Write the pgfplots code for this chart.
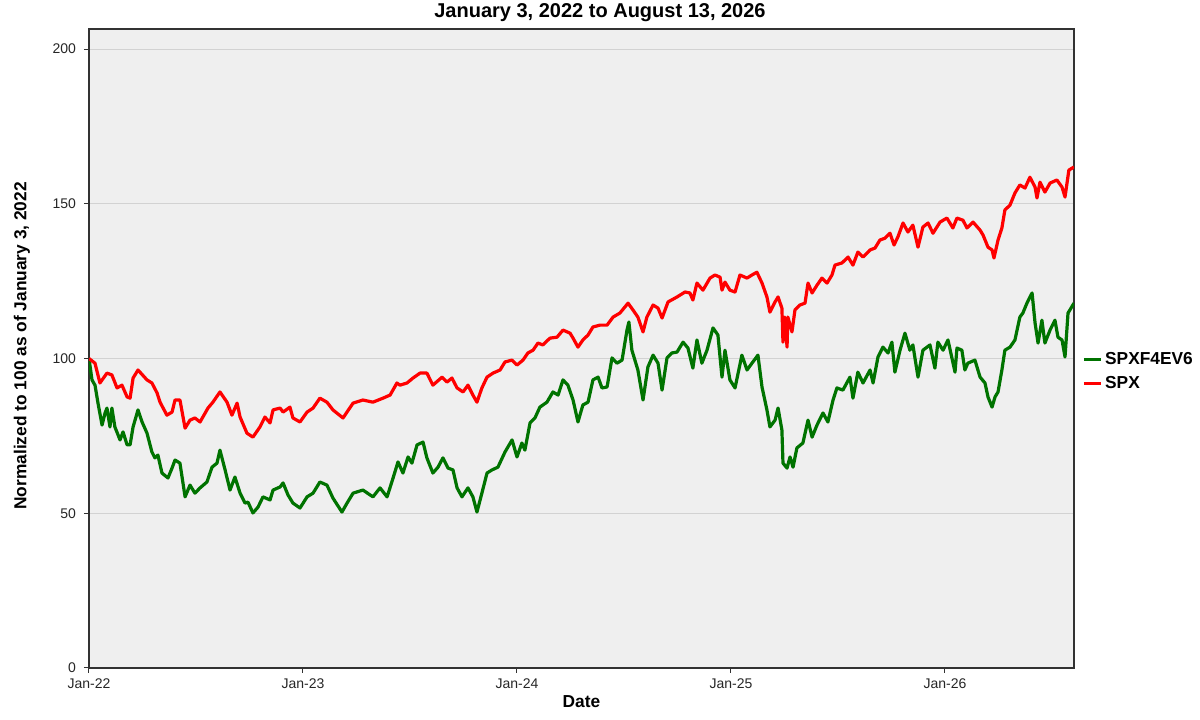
\documentclass[border=0pt]{standalone}
\usepackage{fontspec}
\setmainfont{Liberation Sans}
\usepackage{pgfplots}
\pgfplotsset{compat=1.18}
\usepackage{pgfplotstable}
\definecolor{spxgreen}{RGB}{0,115,0}
\definecolor{spxred}{RGB}{255,0,0}
\definecolor{bgcol}{RGB}{239,239,239}
\definecolor{gridcol}{RGB}{210,210,210}
\definecolor{framecol}{RGB}{50,50,50}

% t = years since January 3, 2022
\pgfplotstableread{
t v
0.000 100.0
0.014 93.1
0.028 91.4
0.042 85.6
0.061 78.5
0.075 82.4
0.084 84.0
0.098 77.9
0.107 84.0
0.121 77.9
0.145 73.7
0.159 76.3
0.178 72.1
0.192 72.1
0.206 77.9
0.229 83.4
0.248 79.5
0.271 75.9
0.294 69.8
0.308 67.9
0.322 68.8
0.341 63.0
0.369 61.4
0.388 64.6
0.402 67.2
0.425 66.2
0.449 55.3
0.472 59.1
0.495 56.5
0.519 58.2
0.551 60.1
0.575 64.9
0.598 66.2
0.612 70.4
0.636 64.0
0.659 57.5
0.682 61.7
0.706 56.5
0.729 53.3
0.743 53.6
0.766 50.1
0.790 52.0
0.813 55.3
0.846 54.3
0.860 57.5
0.893 58.5
0.907 59.8
0.930 55.9
0.953 53.3
0.986 51.7
1.019 55.3
1.047 56.5
1.079 60.1
1.112 59.1
1.140 54.9
1.182 50.4
1.206 53.3
1.234 56.5
1.280 57.5
1.327 55.3
1.360 58.2
1.393 55.3
1.421 61.4
1.444 66.6
1.467 63.0
1.491 68.2
1.509 66.2
1.533 72.1
1.561 73.0
1.579 67.9
1.607 63.0
1.631 64.9
1.654 67.9
1.678 64.6
1.701 64.0
1.720 58.2
1.743 55.3
1.771 58.2
1.794 55.3
1.813 50.4
1.836 56.5
1.860 63.0
1.883 64.0
1.911 64.9
1.944 69.8
1.977 73.7
2.000 68.2
2.023 72.7
2.037 70.4
2.061 79.2
2.084 80.8
2.107 84.3
2.140 85.9
2.168 89.2
2.192 88.2
2.215 93.1
2.238 91.4
2.262 86.6
2.285 79.5
2.308 85.0
2.332 85.9
2.355 93.1
2.379 94.0
2.397 90.5
2.421 90.8
2.444 100.2
2.467 98.5
2.491 99.5
2.514 109.2
2.523 111.8
2.537 102.7
2.551 99.5
2.565 96.3
2.589 86.6
2.612 97.3
2.636 101.1
2.659 98.5
2.678 89.8
2.701 100.2
2.724 101.8
2.748 102.1
2.776 105.3
2.799 103.4
2.822 96.9
2.841 106.0
2.864 98.5
2.888 102.7
2.916 109.9
2.939 107.6
2.958 94.0
2.972 102.7
2.995 93.1
3.019 90.5
3.051 101.1
3.075 96.3
3.098 98.5
3.126 101.1
3.145 90.8
3.168 83.4
3.182 77.9
3.206 80.1
3.220 84.0
3.238 76.9
3.243 66.2
3.262 64.6
3.276 68.2
3.290 64.9
3.308 71.1
3.336 72.7
3.360 80.1
3.379 74.6
3.402 78.5
3.430 82.4
3.453 79.5
3.477 86.6
3.495 90.5
3.523 89.8
3.556 94.0
3.570 87.2
3.593 95.6
3.617 92.1
3.650 96.3
3.664 92.1
3.687 100.5
3.710 103.7
3.734 101.8
3.752 105.3
3.766 95.6
3.790 102.7
3.813 108.2
3.836 102.7
3.850 104.4
3.874 94.0
3.897 102.7
3.930 104.4
3.953 96.9
3.967 105.3
3.991 102.7
4.014 106.0
4.047 95.6
4.056 103.4
4.079 102.7
4.093 96.3
4.107 98.5
4.140 99.5
4.164 94.0
4.187 92.1
4.201 87.6
4.220 84.3
4.234 87.6
4.248 89.2
4.266 96.3
4.280 102.7
4.304 103.7
4.327 106.0
4.350 113.4
4.364 114.7
4.383 117.9
4.407 121.2
4.421 111.5
4.435 105.0
4.453 112.4
4.467 105.0
4.491 109.2
4.514 112.4
4.528 106.9
4.547 106.0
4.561 100.5
4.575 114.7
4.603 117.9
}\greendata

\pgfplotstableread{
t v
0.000 100.0
0.028 98.5
0.051 92.1
0.084 95.3
0.107 94.7
0.131 90.5
0.154 91.4
0.178 87.6
0.192 87.2
0.206 93.7
0.229 96.3
0.271 93.1
0.294 92.1
0.318 88.9
0.332 85.9
0.364 81.7
0.388 82.7
0.402 86.6
0.425 86.6
0.449 77.5
0.472 80.1
0.495 80.8
0.519 79.5
0.556 84.0
0.579 85.9
0.612 89.2
0.645 85.9
0.668 81.7
0.692 85.6
0.706 81.1
0.738 75.9
0.766 74.6
0.799 77.9
0.822 81.1
0.846 79.2
0.860 83.4
0.893 84.0
0.907 82.7
0.939 84.3
0.953 80.8
0.986 79.5
1.019 82.7
1.047 84.0
1.079 87.2
1.112 85.9
1.140 83.4
1.187 80.8
1.234 85.6
1.280 86.6
1.327 85.9
1.374 87.2
1.407 88.2
1.439 92.1
1.453 91.4
1.486 92.1
1.514 93.7
1.547 95.3
1.579 95.3
1.607 91.4
1.650 94.0
1.673 92.4
1.696 93.7
1.720 90.5
1.748 89.2
1.771 91.4
1.794 88.2
1.813 85.9
1.836 90.5
1.860 94.0
1.888 95.3
1.921 96.3
1.944 98.9
1.977 99.5
2.000 97.9
2.028 99.5
2.051 101.8
2.075 102.7
2.098 105.0
2.121 104.4
2.154 106.6
2.187 106.9
2.215 109.2
2.248 108.2
2.262 106.6
2.285 103.7
2.308 106.0
2.332 107.6
2.355 110.2
2.388 110.8
2.421 110.8
2.449 113.4
2.481 114.7
2.519 117.9
2.542 115.7
2.565 113.4
2.589 108.6
2.607 113.4
2.636 117.3
2.659 116.3
2.678 113.1
2.706 118.3
2.748 119.9
2.785 121.5
2.808 121.2
2.822 118.9
2.841 124.4
2.869 122.1
2.902 126.0
2.925 127.0
2.949 126.3
2.958 122.1
2.972 124.7
2.995 122.1
3.019 121.5
3.042 127.0
3.075 126.0
3.098 127.0
3.121 127.9
3.145 124.4
3.168 119.9
3.182 115.0
3.206 118.3
3.220 119.9
3.238 116.3
3.243 105.3
3.252 113.4
3.262 103.7
3.266 113.4
3.285 108.6
3.299 115.7
3.322 117.3
3.346 117.9
3.360 124.4
3.379 121.2
3.402 123.7
3.425 126.0
3.449 124.4
3.472 127.0
3.486 130.2
3.519 130.9
3.547 132.8
3.570 130.2
3.593 134.4
3.617 132.8
3.650 135.1
3.673 135.7
3.696 138.3
3.720 138.9
3.743 140.5
3.762 136.7
3.780 139.3
3.804 143.8
3.827 140.9
3.850 143.1
3.874 136.0
3.897 142.5
3.921 143.8
3.944 140.5
3.977 144.1
4.009 145.4
4.037 142.2
4.056 145.4
4.084 144.7
4.103 142.2
4.131 144.1
4.164 141.5
4.178 139.9
4.201 136.0
4.220 135.1
4.229 132.5
4.248 138.3
4.266 142.2
4.280 148.0
4.304 149.6
4.327 153.5
4.350 156.1
4.374 155.1
4.397 158.6
4.421 155.4
4.430 151.9
4.444 157.0
4.467 153.8
4.491 156.7
4.523 157.7
4.547 155.4
4.561 152.2
4.579 160.9
4.603 161.9
}\reddata

\begin{document}
\begin{tikzpicture}
\useasboundingbox (-66.75pt,-39pt) rectangle (833.25pt,501pt);
\begin{axis}[
  at={(0,0)}, anchor=south west,
  scale only axis, width=738.75pt, height=479.25pt,
  xmin=0, xmax=4.603, ymin=0, ymax=206.5,
  xtick={0,1,2,3,4},
  xticklabels={Jan-22,Jan-23,Jan-24,Jan-25,Jan-26},
  ytick={0,50,100,150,200},
  tick align=outside, tick pos=left,
  major tick length=3.75pt,
  ymajorgrids,
  grid style={draw=gridcol, line width=0.75pt},
  axis background/.style={fill=bgcol},
  axis line style={draw=framecol, line width=0.9pt},
  tick style={draw=framecol, line width=0.75pt},
  /pgf/number format/assume math mode=true,
  tick label style={font=\fontsize{10.5}{12}\selectfont, text=black!85},
  xticklabel style={anchor=north, yshift=-1pt},
  yticklabel style={anchor=east, xshift=-2.5pt},
  xlabel={Date},
  ylabel={Normalized to 100 as of January 3, 2022},
  every axis x label/.style={at={(axis description cs:0.5,0)}, anchor=base, yshift=-30pt, font=\fontsize{13}{15}\bfseries},
  every axis y label/.style={at={(axis description cs:0,0.5)}, anchor=center, rotate=90, yshift=50.25pt, xshift=2pt, font=\fontsize{13}{15}\bfseries},
  legend style={at={(axis description cs:1,0.464)}, anchor=west, xshift=6pt, draw=none, fill=none,
    font=\fontsize{13}{15}\bfseries, row sep=4pt, inner sep=0pt},
  legend cell align=left,
  legend image code/.code={\draw[#1, line width=2.4pt] (0pt,0pt) -- (12.75pt,0pt);},
  clip=true,
]
\addplot[spxgreen, line width=2.4pt, line join=round] table[x=t, y=v] {\greendata};
\addlegendentry{SPXF4EV6}
\addplot[spxred, line width=2.4pt, line join=round] table[x=t, y=v] {\reddata};
\addlegendentry{SPX}
\end{axis}
\node[anchor=base, font=\fontsize{15}{18}\bfseries] at (383.25pt,487.5pt) {January 3, 2022 to August 13, 2026};
\end{tikzpicture}
\end{document}
